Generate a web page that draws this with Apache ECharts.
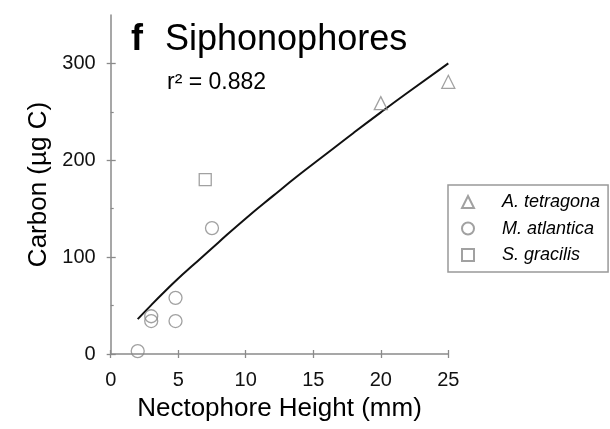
<!DOCTYPE html>
<html>
<head>
<meta charset="utf-8">
<script src="https://cdn.jsdelivr.net/npm/echarts@6/dist/echarts.min.js"></script>
<style>html,body{margin:0;padding:0;background:#fff}#c{width:610px;height:429px}</style>
</head>
<body>
<div id="c"></div>
<script>
// Data
var tetragona = [[20, 259], [25, 281]];
var atlantica = [[2, 3], [3, 39], [3, 34], [4.8, 58], [4.8, 34], [7.5, 130]];
var gracilis = [[7, 180]];
var fitX = [2, 3, 4, 5, 6, 8, 10, 12, 14, 16, 18, 20, 22, 25];
var fitY = [36, 50.5, 64.5, 78, 90.5, 115.5, 140, 163, 185.5, 207, 228.5, 249.5, 270, 300];
var xTicks = [0, 5, 10, 15, 20, 25];
var yTicks = [0, 100, 200, 300];
var yMinorTicks = [50, 150, 250];
var seriesNames = ['A. tetragona', 'M. atlantica', 'S. gracilis'];

var FONT = 'Liberation Sans, Arial, sans-serif';
var GRAY = '#8a8a8a';
var fitData = fitX.map(function (x, i) { return [x, fitY[i]]; });

var chart = echarts.init(document.getElementById('c'), null, {renderer: 'canvas'});
var markerStyle = {color: 'rgba(0,0,0,0)', borderColor: GRAY, borderWidth: 1.3};

chart.setOption({
  animation: false,
  backgroundColor: '#fff',
  textStyle: {fontFamily: FONT},
  title: [{
    text: '{b|f}{n|Siphonophores}',
    left: 126, top: 17,
    textStyle: {
      fontWeight: 'normal',
      rich: {
        b: {fontFamily: FONT, fontSize: 36, fontWeight: 'bold', color: '#000', padding: [0, 22, 0, 0]},
        n: {fontFamily: FONT, fontSize: 36, fontWeight: 'normal', color: '#000'}
      }
    }
  }, {
    text: 'r² = 0.882',
    left: 162, top: 66,
    textStyle: {fontFamily: FONT, fontSize: 23, fontWeight: 'normal', color: '#000'}
  }],
  legend: {
    orient: 'vertical',
    left: 448, top: 185,
    padding: [8, 8, 8, 13],
    itemGap: 8.5,
    itemWidth: 12, itemHeight: 12,
    borderColor: '#999', borderWidth: 1.5,
    textStyle: {fontFamily: FONT, fontSize: 18, fontStyle: 'italic', color: '#000', padding: [0, 0, 0, 23]},
    data: [
      {name: seriesNames[0], icon: 'triangle'},
      {name: seriesNames[1], icon: 'circle'},
      {name: seriesNames[2], icon: 'rect'}
    ]
  },
  grid: {left: 110.7, right: 161.7, top: 15, bottom: 75, containLabel: false},
  xAxis: [{
    type: 'value', min: 0, max: 25, interval: 5, position: 'bottom',
    name: 'Nectophore Height (mm)', nameLocation: 'middle', nameGap: 42,
    nameTextStyle: {fontFamily: FONT, fontSize: 26, color: '#000'},
    axisLine: {show: true, lineStyle: {color: GRAY, width: 1.5}},
    axisTick: {show: true, inside: false, length: 4, lineStyle: {color: GRAY, width: 1.3}, customValues: xTicks},
    axisLabel: {show: true, fontFamily: FONT, fontSize: 20, color: '#111', margin: 16, customValues: xTicks},
    splitLine: {show: false}
  }, {
    type: 'value', min: 0, max: 25, interval: 5, position: 'bottom',
    axisLine: {show: false},
    axisTick: {show: true, inside: true, length: 4, lineStyle: {color: GRAY, width: 1.3}, customValues: xTicks},
    axisLabel: {show: false},
    splitLine: {show: false}
  }],
  yAxis: [{
    type: 'value', min: 0, max: 350, interval: 50, position: 'left',
    name: 'Carbon (µg C)', nameLocation: 'middle', nameGap: 58,
    nameTextStyle: {fontFamily: FONT, fontSize: 26, color: '#000'},
    axisLine: {show: true, lineStyle: {color: GRAY, width: 1.5}},
    axisTick: {show: true, inside: false, length: 4, lineStyle: {color: GRAY, width: 1.3}, customValues: yTicks},
    axisLabel: {show: true, fontFamily: FONT, fontSize: 20, color: '#111', margin: 15, customValues: yTicks},
    splitLine: {show: false}
  }, {
    type: 'value', min: 0, max: 350, interval: 50, position: 'left',
    axisLine: {show: false},
    axisTick: {show: true, inside: true, length: 5, lineStyle: {color: GRAY, width: 1.3}, customValues: yTicks},
    axisLabel: {show: false},
    splitLine: {show: false}
  }, {
    type: 'value', min: 0, max: 350, interval: 50, position: 'left',
    axisLine: {show: false},
    axisTick: {show: true, inside: true, length: 3, lineStyle: {color: GRAY, width: 1.2}, customValues: yMinorTicks},
    axisLabel: {show: false},
    splitLine: {show: false}
  }],
  series: [{
    name: 'fit', type: 'line', data: fitData, smooth: true, showSymbol: false, symbol: 'none',
    lineStyle: {color: '#111', width: 2}, z: 3, silent: true
  }, {
    name: seriesNames[0], type: 'scatter', data: tetragona, symbol: 'triangle', symbolSize: 13,
    itemStyle: markerStyle, z: 4
  }, {
    name: seriesNames[1], type: 'scatter', data: atlantica, symbol: 'circle', symbolSize: 13,
    itemStyle: markerStyle, z: 4
  }, {
    name: seriesNames[2], type: 'scatter', data: gracilis, symbol: 'rect', symbolSize: 12,
    itemStyle: markerStyle, z: 4
  }]
});
</script>
</body>
</html>
